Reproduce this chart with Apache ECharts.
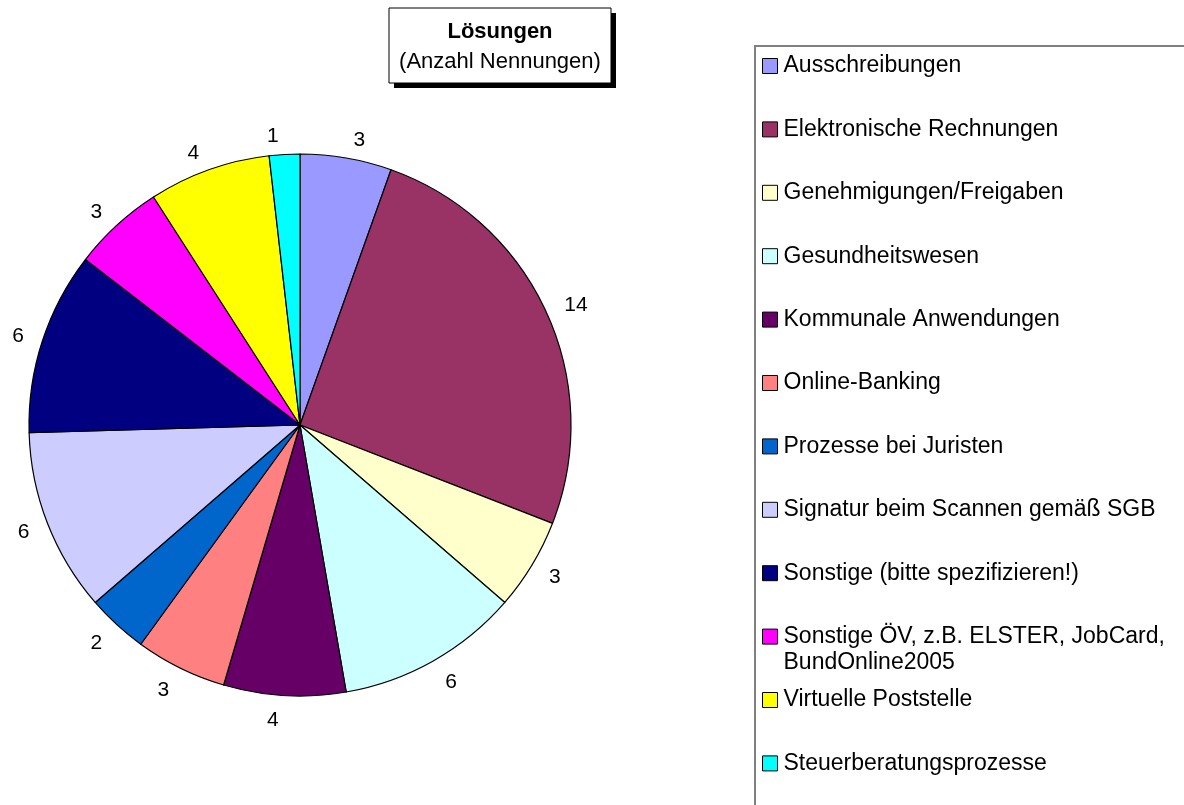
<!DOCTYPE html>
<html>
<head>
<meta charset="utf-8">
<script src="https://cdn.jsdelivr.net/npm/echarts@6/dist/echarts.min.js"></script>
<style>
  html, body { margin: 0; padding: 0; background: #fff; }
  #chart { width: 1184px; height: 805px; }
</style>
</head>
<body>
<div id="chart"></div>
<script>
// Lösungen (Anzahl Nennungen)
const categories = [
  "Ausschreibungen",
  "Elektronische Rechnungen",
  "Genehmigungen/Freigaben",
  "Gesundheitswesen",
  "Kommunale Anwendungen",
  "Online-Banking",
  "Prozesse bei Juristen",
  "Signatur beim Scannen gemäß SGB",
  "Sonstige (bitte spezifizieren!)",
  "Sonstige ÖV, z.B. ELSTER, JobCard, BundOnline2005",
  "Virtuelle Poststelle",
  "Steuerberatungsprozesse"
];
const counts = [3, 14, 3, 6, 4, 3, 2, 6, 6, 3, 4, 1];
const colors = [
  "#9999ff", "#993366", "#ffffcc", "#ccffff", "#660066", "#ff8080",
  "#0066cc", "#ccccff", "#000080", "#ff00ff", "#ffff00", "#00ffff"
];

const font = "Liberation Sans, Arial, sans-serif";
const pieCenter = [300, 425];
const legendTop0 = 66;   // centre of first legend row
const legendStep = 63.4;
const lineH = 26;
const legendFont = 23;

// one legend per row so the rows keep a fixed pitch
const legends = categories.map(function (name, i) {
  const c = legendTop0 + legendStep * i;
  const wrapped = name.indexOf("BundOnline2005") >= 0;
  return {
    data: [name],
    left: 762,
    top: wrapped ? c - lineH * 1.5 : c - lineH / 2,
    padding: 0,
    itemWidth: 15,
    itemHeight: 15,
    itemGap: 0,
    icon: "rect",
    selectedMode: false,
    itemStyle: { borderColor: "#000", borderWidth: 1 },
    formatter: function (n) {
      if (n.indexOf("BundOnline2005") < 0) return n;
      // empty first row keeps the first text line level with the icon
      return "{e| }\n{t|Sonstige ÖV, z.B. ELSTER, JobCard,}\n{t|BundOnline2005}";
    },
    textStyle: {
      fontFamily: font,
      fontSize: legendFont,
      color: "#000",
      lineHeight: lineH,
      padding: [0, 0, 0, 1],
      rich: {
        e: { fontFamily: font, fontSize: legendFont, lineHeight: lineH },
        t: { fontFamily: font, fontSize: legendFont, lineHeight: lineH, color: "#000" }
      }
    }
  };
});

const chart = echarts.init(document.getElementById("chart"));
chart.setOption({
  animation: false,
  backgroundColor: "#fff",
  color: colors,
  title: {
    text: "Lösungen",
    subtext: "(Anzahl Nennungen)",
    left: 500,
    top: 20,
    textAlign: "center",
    padding: 0,
    itemGap: 6,
    textStyle: { fontFamily: font, fontSize: 22, fontWeight: "bold", color: "#000", lineHeight: 24 },
    subtextStyle: { fontFamily: font, fontSize: 22, color: "#000", lineHeight: 24 }
  },
  legend: legends,
  graphic: [
    // title frame with drop shadow
    {
      type: "rect",
      z: -2,
      shape: { x: 394, y: 13, width: 222, height: 75 },
      style: { fill: "#000" }
    },
    {
      type: "rect",
      z: -1,
      shape: { x: 389, y: 8, width: 222, height: 75 },
      style: { fill: "#fff", stroke: "#000", lineWidth: 1 }
    },
    // legend frame
    {
      type: "rect",
      z: -1,
      shape: { x: 755, y: 46, width: 600, height: 900 },
      style: { fill: "#fff", stroke: "#808080", lineWidth: 2 }
    }
  ],
  series: [
    {
      type: "pie",
      center: pieCenter,
      radius: 271,
      startAngle: 90,
      clockwise: true,
      avoidLabelOverlap: false,
      itemStyle: { borderColor: "#000", borderWidth: 1.2 },
      label: {
        show: true,
        position: "outside",
        formatter: "{c}",
        fontFamily: font,
        fontSize: 21,
        color: "#000"
      },
      labelLine: { show: false, length: 14, length2: 0 },
      // push labels a little further out above/below the pie
      labelLayout: function (p) {
        const r = p.labelRect;
        const dx = r.x + r.width / 2 - pieCenter[0];
        const dy = r.y + r.height / 2 - pieCenter[1];
        const s = dy / Math.sqrt(dx * dx + dy * dy);
        return { dy: s > 0 ? 11 * s : 4 * s };
      },
      emphasis: { disabled: true },
      data: categories.map(function (n, i) {
        return { name: n, value: counts[i] };
      })
    }
  ]
});
</script>
</body>
</html>
